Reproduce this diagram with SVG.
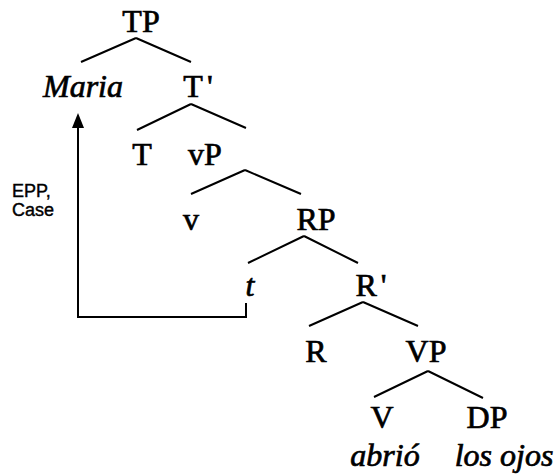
<svg xmlns="http://www.w3.org/2000/svg" width="555" height="475" viewBox="0 0 555 475">
<style>
.lbl{font-family:"Liberation Serif","Times New Roman",serif;font-size:32px;fill:#000;stroke:#000;stroke-width:0.7px;text-anchor:middle}
.it{font-style:italic}
.note{font-family:"Liberation Sans",Arial,sans-serif;font-size:18px;fill:#000;stroke:#000;stroke-width:0.4px}
.edge{stroke:#000;stroke-width:2;fill:none;stroke-linecap:butt}
</style>
<rect width="555" height="475" fill="#fff"/>
<g id="connectors">
<path class="edge" d="M136,38 L81,62 M136,38 L191,62"/>
<path class="edge" d="M191,104 L137,130 M191,104 L246,128"/>
<path class="edge" d="M245,170 L191,194 M245,170 L301,194"/>
<path class="edge" d="M304,236 L248,263 M304,236 L358,263"/>
<path class="edge" d="M363,302 L309,326 M363,302 L418,326"/>
<path class="edge" d="M428,371 L374,397 M428,371 L483,398"/>
<g id="movement">
<path class="edge" d="M246,303 L246,317 L78,317 L78,125"/>
<polygon points="78,113 72,128 84,128" fill="#000"/>
</g>
</g>
<g id="TP"><text class="lbl" x="141" y="32">TP</text></g>
<g id="Maria"><text class="lbl it" x="83" y="97">Maria</text></g>
<g id="Tbar"><text class="lbl" x="198" y="97">T<tspan dx="4">'</tspan></text></g>
<g id="T"><text class="lbl" x="142" y="165">T</text></g>
<g id="vP"><text class="lbl" x="205" y="165">vP</text></g>
<g id="v"><text class="lbl" x="191" y="230">v</text></g>
<g id="RP"><text class="lbl" x="316" y="230">RP</text></g>
<g id="t"><text class="lbl it" x="250" y="296">t</text></g>
<g id="Rbar"><text class="lbl" x="371" y="296">R<tspan dx="4">'</tspan></text></g>
<g id="R"><text class="lbl" x="316" y="362">R</text></g>
<g id="VP"><text class="lbl" x="426" y="362">VP</text></g>
<g id="V"><text class="lbl" x="382" y="428">V</text></g>
<g id="DP"><text class="lbl" x="487" y="428">DP</text></g>
<g id="abrio"><text class="lbl it" x="385" y="466">abrió</text></g>
<g id="losojos"><text class="lbl it" x="504" y="466">los ojos</text></g>
<g id="label-epp"><text class="note" x="12" y="197">EPP,</text><text class="note" x="12" y="216">Case</text></g>
</svg>
